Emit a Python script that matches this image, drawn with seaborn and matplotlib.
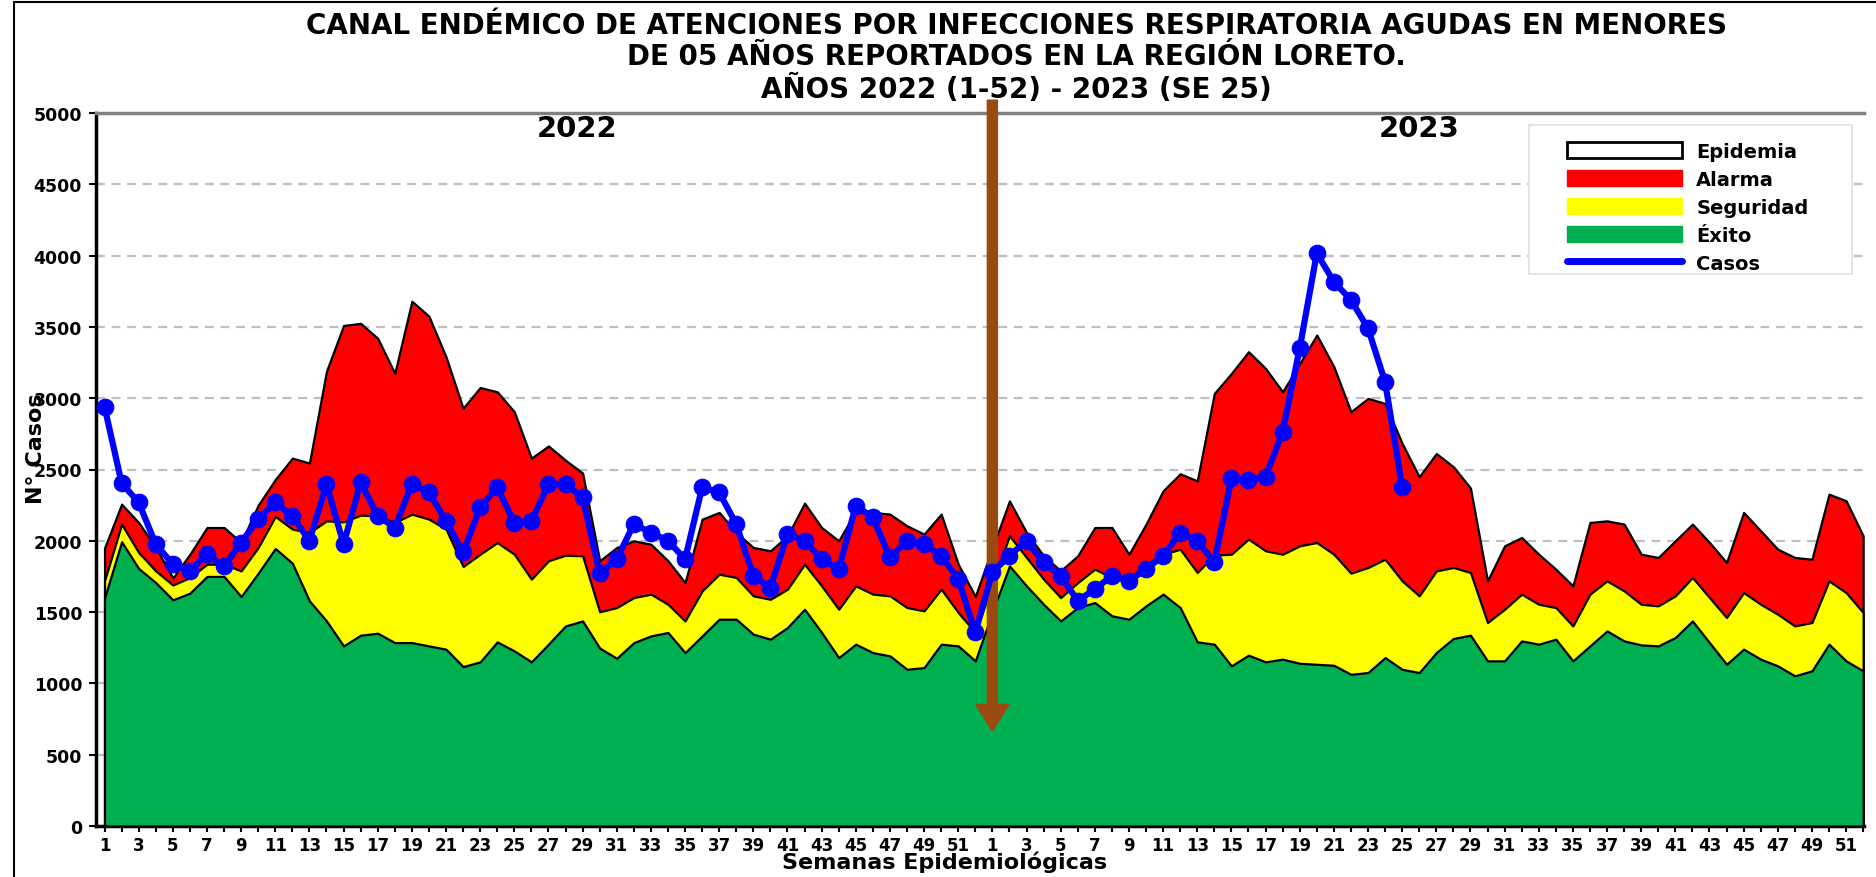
import numpy as np
import pandas as pd
import matplotlib
matplotlib.use("Agg")
import matplotlib.pyplot as plt
import seaborn as sns
from matplotlib.patches import Patch, Rectangle
from matplotlib.lines import Line2D

# ---------------------------------------------------------------
# datos (semanas 1-52 de 2022 y 1-52 de 2023)

semanas = list(range(1, 53))

exito_2022 = [1600, 1993, 1806, 1707, 1586, 1633, 1750, 1750, 1609, 1773,
              1946, 1843, 1579, 1438, 1263, 1338, 1352, 1286, 1286, 1263,
              1240, 1118, 1151, 1291, 1228, 1151, 1275, 1403, 1438, 1248,
              1176, 1286, 1333, 1357, 1216, 1333, 1450, 1450, 1345, 1310,
              1392, 1520, 1357, 1181, 1275, 1216, 1193, 1099, 1111, 1275,
              1263, 1158]
exito_2023 = [1500, 1824, 1684, 1555, 1438, 1532, 1567, 1474, 1450, 1544,
              1626, 1532, 1291, 1275, 1123, 1198, 1151, 1170, 1141, 1134,
              1127, 1064, 1076, 1181, 1099, 1076, 1216, 1315, 1338, 1158,
              1158, 1298, 1275, 1310, 1158, 1263, 1368, 1298, 1270, 1263,
              1322, 1438, 1286, 1134, 1240, 1170, 1123, 1053, 1088, 1275,
              1158, 1088]

seguridad_2022 = [1720, 2117, 1918, 1789, 1690, 1742, 1836, 1836, 1789, 1953,
                  2171, 2082, 2058, 2140, 2133, 2180, 2175, 2128, 2187, 2152,
                  2082, 1820, 1906, 1988, 1906, 1731, 1860, 1899, 1895, 1502,
                  1532, 1602, 1626, 1555, 1438, 1649, 1766, 1743, 1614, 1590,
                  1661, 1836, 1684, 1520, 1684, 1626, 1614, 1532, 1509, 1661,
                  1497, 1357]
seguridad_2023 = [1700, 2035, 1883, 1731, 1602, 1707, 1801, 1743, 1731, 1836,
                  1906, 1941, 1778, 1900, 1906, 2012, 1930, 1906, 1965, 1988,
                  1906, 1773, 1813, 1871, 1719, 1614, 1789, 1813, 1778, 1427,
                  1520, 1626, 1555, 1532, 1403, 1626, 1719, 1649, 1555, 1544,
                  1614, 1743, 1602, 1462, 1637, 1555, 1485, 1403, 1427, 1719,
                  1637, 1497]

alarma_2022 = [1950, 2257, 2128, 1953, 1740, 1906, 2093, 2093, 1988, 2250,
               2430, 2580, 2545, 3190, 3510, 3525, 3420, 3175, 3680, 3575,
               3290, 2930, 3075, 3045, 2905, 2580, 2665, 2565, 2475, 1860,
               1953, 2000, 1976, 1860, 1707, 2152, 2199, 2058, 1953, 1930,
               2035, 2264, 2093, 2000, 2210, 2199, 2187, 2105, 2047, 2187,
               1836, 1610]
alarma_2023 = [1950, 2280, 2058, 1895, 1790, 1895, 2093, 2093, 1906, 2117,
               2351, 2470, 2420, 3034, 3174, 3326, 3209, 3045, 3244, 3443,
               3221, 2905, 2999, 2963, 2683, 2449, 2612, 2519, 2370, 1719,
               1965, 2023, 1906, 1801, 1684, 2129, 2140, 2117, 1906, 1883,
               2000, 2117, 1988, 1848, 2199, 2070, 1941, 1883, 1871, 2327,
               2281, 2035]

casos_2022 = [2940, 2405, 2269, 1976, 1836, 1789, 1906, 1820, 1988, 2152,
              2269, 2175, 2000, 2397, 1976, 2409, 2175, 2093, 2397, 2339,
              2140, 1918, 2234, 2374, 2128, 2140, 2397, 2397, 2304, 1772,
              1871, 2117, 2058, 2000, 1871, 2374, 2339, 2117, 1754, 1672,
              2047, 2000, 1871, 1801, 2245, 2164, 1883, 2000, 1976, 1895,
              1731, 1357]
casos_2023 = [1780, 1895, 2000, 1848, 1754, 1579, 1661, 1754, 1719, 1801,
              1895, 2058, 2000, 1848, 2437, 2425, 2449, 2765, 3349, 4016,
              3817, 3689, 3490, 3115, 2379]

titulo = ("CANAL ENDÉMICO DE ATENCIONES POR INFECCIONES RESPIRATORIA AGUDAS EN MENORES\n"
          "DE 05 AÑOS REPORTADOS EN LA REGIÓN LORETO.\n"
          "AÑOS 2022 (1-52) - 2023 (SE 25)")

# ---------------------------------------------------------------
# armando las series

exito = exito_2022 + exito_2023
seguridad = seguridad_2022 + seguridad_2023
alarma = alarma_2022 + alarma_2023
casos = casos_2022 + casos_2023

x = np.arange(len(exito))
etiquetas = [str(s) if s % 2 == 1 else "" for s in semanas + semanas]

df_casos = pd.DataFrame({"x": np.arange(len(casos)), "casos": casos})

# ---------------------------------------------------------------
# grafico

sns.set_style("white")
plt.rcParams["font.family"] = ["DejaVu Sans"]
plt.rcParams["font.weight"] = "bold"
plt.rcParams["text.color"] = "black"
plt.rcParams["axes.labelcolor"] = "black"
plt.rcParams["xtick.color"] = "black"
plt.rcParams["ytick.color"] = "black"

fig = plt.figure(figsize=(18.76, 8.78), dpi=100)
ax = fig.add_axes([96 / 1876, 1 - 827 / 878, (1864 - 96) / 1876, (827 - 114) / 878])

# lineas de guia punteadas
for yv in range(500, 5000, 500):
    ax.axhline(yv, color="#BFBFBF", lw=1.6, ls=(0, (4, 3)), zorder=0)

# zonas del canal endemico
ax.fill_between(x, 0, alarma, facecolor="#FF0000", edgecolor="black", lw=1.6, zorder=1)
ax.fill_between(x, 0, seguridad, facecolor="#FFFF00", edgecolor="black", lw=1.6, zorder=2)
ax.fill_between(x, 0, exito, facecolor="#00B050", edgecolor="black", lw=1.6, zorder=3)

# flecha de cambio de anio
ax.annotate("", xy=(52, 666), xytext=(52, 5090), annotation_clip=False,
            arrowprops=dict(arrowstyle="simple,head_length=0.8,head_width=1.0,tail_width=0.3",
                            mutation_scale=24, color="#9A4A0E", shrinkA=0, shrinkB=0),
            zorder=5)

# casos
sns.lineplot(data=df_casos, x="x", y="casos", ax=ax, color="#0000FF", lw=4.5,
             marker="o", markersize=12, markeredgecolor="#0000FF", zorder=6, legend=False)

ax.set_xlim(-0.5, 103.05)
ax.set_ylim(0, 5000)
ax.set_yticks(range(0, 5001, 500))
ax.set_xticks(x)
ax.set_xticklabels(etiquetas)
ax.tick_params(axis="x", length=4, width=1.5, pad=3, labelsize=12, direction="out", bottom=True)
ax.tick_params(axis="y", length=5, width=1.5, pad=5, labelsize=12.5, direction="out", left=True)

for s in ["left", "bottom"]:
    ax.spines[s].set_color("black")
    ax.spines[s].set_linewidth(2.5)
ax.spines["top"].set_color("#808080")
ax.spines["top"].set_linewidth(2.5)
ax.spines["right"].set_visible(False)

ax.set_xlabel("Semanas Epidemiológicas", fontsize=16, fontweight="bold")
ax.xaxis.set_label_coords(0.48, -0.035)
ax.set_ylabel("N° Casos", fontsize=16, fontweight="bold")
ax.yaxis.set_label_coords(-0.028, 0.53)

ax.text(27.7, 4895, "2022", ha="center", va="center", fontsize=21, fontweight="bold", zorder=7)
ax.text(77.0, 4895, "2023", ha="center", va="center", fontsize=21, fontweight="bold", zorder=7)

fig.text(0.542, 0.986, titulo, ha="center", va="top", fontsize=20, fontweight="bold",
         linespacing=1.14)

# leyenda
caja = Rectangle((1529 / 1876, 1 - 275 / 878), 323 / 1876, 149 / 878, transform=fig.transFigure,
                 facecolor="white", edgecolor="#DDE0EA", lw=1.2, zorder=8)
ax.add_patch(caja)
caja.set_clip_on(False)

handles = [Patch(facecolor="white", edgecolor="black", lw=2),
           Patch(facecolor="#FF0000", edgecolor="#FF0000"),
           Patch(facecolor="#FFFF00", edgecolor="#FFFF00"),
           Patch(facecolor="#00B050", edgecolor="#00B050"),
           Line2D([], [], color="#0000FF", lw=5)]
leg = ax.legend(handles, ["Epidemia", "Alarma", "Seguridad", "Éxito", "Casos"],
                loc="upper left", bbox_to_anchor=(1567 / 1876, 1 - 143 / 878),
                bbox_transform=fig.transFigure, frameon=False, fontsize=14,
                handlelength=5.9, handleheight=0.9, labelspacing=0.46,
                handletextpad=0.75, borderpad=0, borderaxespad=0)
leg.set_zorder(10)

# marco de la imagen
fig.add_artist(Line2D([14 / 1876, 14 / 1876], [0, 1 - 3 / 878], color="black", lw=1.5))
fig.add_artist(Line2D([14 / 1876, 1], [1 - 3 / 878, 1 - 3 / 878], color="black", lw=1.5))

fig.savefig("out.png", dpi=100)
